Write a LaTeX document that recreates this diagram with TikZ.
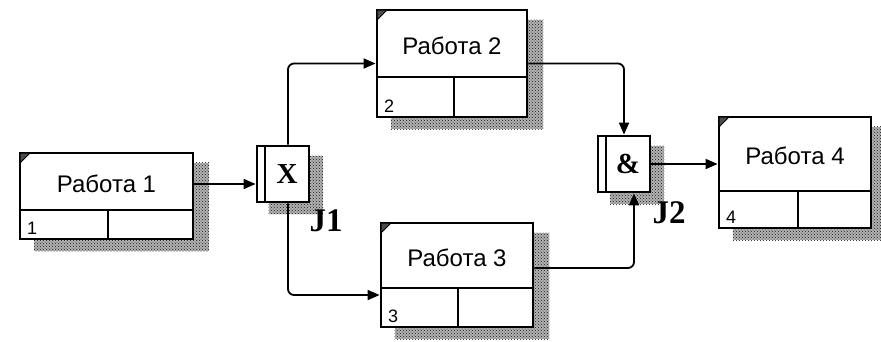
\documentclass[tikz,border=0pt]{standalone}
\usepackage{fontspec}
\setmainfont{Liberation Sans}
\newfontfamily\serifb{Liberation Serif}
\usetikzlibrary{arrows.meta,patterns,backgrounds}
\newcommand\ActBox[9]{%
  \node[actbox,minimum width={(#4-#2)*1pt},minimum height={(#5-#3)*1pt}] (#1) at ({(#2+#4)/2},{(#3+#5)/2}) {};
  \draw[divline] (#2,#6) -- (#4,#6);
  \draw[divline] (#7,#6) -- (#7,#5);
  \filldraw[cornermark] (#2,#3) -- ({#2+10},#3) -- (#2,{#3+10}) -- cycle;
  \node[acttext] (#1t) at ({(#2+#4)/2},{(#3+#6)/2+2}) {#8};
  \node[numtext,anchor=south west] (#1n) at ({#2+6},{#5-3}) {#9};
  \begin{scope}[on background layer]
    \fill[shadowbase] ([shift={(15,11)}]#1.north west) rectangle ([shift={(15,11)}]#1.south east);
    \fill[shadowfill] ([shift={(15,11)}]#1.north west) rectangle ([shift={(15,11)}]#1.south east);
  \end{scope}
}
\newcommand\JunBox[8]{%
  \node[actbox,minimum width={(#4-#2)*1pt},minimum height={(#5-#3)*1pt}] (#1) at ({(#2+#4)/2},{(#3+#5)/2}) {};
  \draw[divline,line width=2pt] ({#2+8},#3) -- ({#2+8},#5);
  \node[juntext] (#1t) at ({(#2+8+#4)/2},{(#3+#5)/2}) {#6};
  \node[jlabel] (#1l) at #7 {#8};
  \begin{scope}[on background layer]
    \fill[shadowbase] ([shift={(13,11)}]#1.north west) rectangle ([shift={(13,11)}]#1.south east);
    \fill[shadowfill] ([shift={(13,11)}]#1.north west) rectangle ([shift={(13,11)}]#1.south east);
  \end{scope}
}
\begin{document}
\begin{tikzpicture}[x=1pt,y=-1pt,
  actbox/.style={draw,line width=2.8pt,fill=white,rectangle,inner sep=0pt},
  divline/.style={line width=2.5pt},
  cornermark/.style={line width=1pt,fill=black!70,draw=black},
  acttext/.style={font=\fontsize{24}{26}\selectfont,inner sep=0pt},
  numtext/.style={font=\fontsize{18}{19}\selectfont,inner sep=1pt},
  juntext/.style={font=\fontsize{29}{31}\selectfont\serifb\bfseries,inner sep=0pt},
  jlabel/.style={font=\fontsize{33}{35}\selectfont\serifb\bfseries,inner sep=0pt},
  shadowbase/.style={fill=black!30},
  shadowfill/.style={pattern=crosshatch dots,pattern color=black!90},
  conn/.style={line width=1.8pt,rounded corners=6pt,-{Triangle[length=12pt,width=10pt]}}
]
\useasboundingbox (0,0) rectangle (881,341);
\ActBox{b1}{20}{153}{193}{239}{210}{108}{Работа 1}{1}
\ActBox{b2}{377}{10}{527}{117}{77}{454}{Работа 2}{2}
\ActBox{b3}{381}{223}{533}{327}{288}{458}{Работа 3}{3}
\ActBox{b4}{719}{117}{871}{228}{191}{798}{Работа 4}{4}
\JunBox{j1}{257}{146}{309}{202}{X}{(326,221)}{J1}
\JunBox{j2}{598}{136}{650}{192}{\&}{(669,213)}{J2}
\draw[conn] ([yshift=12pt]b1.east) -- ([yshift=12pt]b1.east -| j1.west);
\draw[conn] ([xshift=5pt]j1.north) |- (b2.west);
\draw[conn] ([xshift=5pt]j1.south) |- ([yshift=-20pt]b3.west);
\draw[conn] (b2.east) -| (j2.north);
\draw[conn] ([yshift=7pt]b3.east) -| ([xshift=10pt]j2.south);
\draw[conn] (j2.east) -- (j2.east -| b4.west);
\end{tikzpicture}
\end{document}
